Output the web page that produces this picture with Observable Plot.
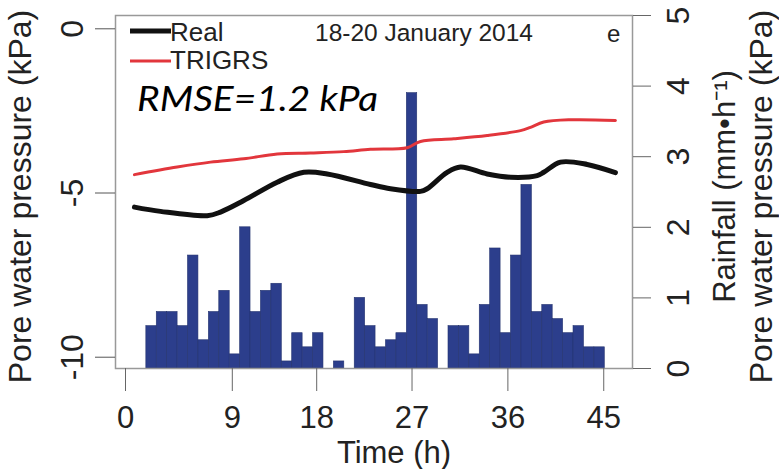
<!DOCTYPE html>
<html>
<head>
<meta charset="utf-8">
<script src="https://cdn.jsdelivr.net/npm/d3@7"></script>
<script src="https://cdn.jsdelivr.net/npm/@observablehq/plot@0.6"></script>
<style>
  html, body { margin: 0; padding: 0; background: #fff; }
  #chart { width: 779px; height: 469px; }
</style>
</head>
<body>
<div id="chart"></div>
<script>
// ---- Data ----
// Hourly rainfall bars (mm/h), consecutive hourly slots starting at slot 2
const rainfall = [0.6, 0.8, 0.8, 0.6, 1.6, 0.4, 0.8, 1.1, 0.2, 2.0,
                  0.8, 1.1, 1.2, 0.1, 0.5, 0.3, 0.5, 0.0, 0.1, 0.0,
                  1.0, 0.6, 0.3, 0.4, 0.5, 3.9, 0.9, 0.7, 0.0, 0.6,
                  0.6, 0.2, 0.9, 1.7, 0.5, 1.6, 2.6, 0.8, 0.9, 0.7,
                  0.5, 0.6, 0.3, 0.3];
const rainStartSlot = 2;

// Measured pore water pressure (kPa)
const realTime     = [0.86, 3.36, 7.84, 9.12, 11.35, 14.56, 17.11, 19.36, 23.51, 25.43, 28.31, 28.95, 30.87, 32.15, 34.71, 36.95, 39.51, 40.14, 41.75, 44.31, 47.02];
const realPressure = [-5.43, -5.56, -5.69, -5.58, -5.23, -4.67, -4.37, -4.42, -4.74, -4.87, -4.95, -4.87, -4.37, -4.21, -4.42, -4.52, -4.47, -4.37, -4.06, -4.13, -4.38];

// TRIGRS simulated pore water pressure (kPa)
const trigrsTime     = [0.86, 4.96, 8.16, 11.35, 14.56, 17.75, 20.95, 23.51, 27.03, 28.31, 31.51, 34.71, 37.91, 38.87, 40.14, 42.71, 47.02];
const trigrsPressure = [-4.44, -4.21, -4.06, -3.96, -3.81, -3.78, -3.74, -3.67, -3.62, -3.43, -3.35, -3.25, -3.10, -3.00, -2.84, -2.77, -2.79];

// Axis ticks
const timeTickPos    = [0, 10.25, 18.35, 27.5, 36.7, 45.9];
const timeTickLabels = ["0", "9", "18", "27", "36", "45"];
const pressureTicks  = [0, -5, -10];
const rainTicks      = [0, 1, 2, 3, 4, 5];

// Pressure axis sits on the rainfall scale: -10 kPa -> 0.16, 0 kPa -> 4.81
const P0 = 4.8116, PK = 0.46516;
const toRain = p => P0 + PK * p;

const bars = rainfall.map((r, i) => ({x1: rainStartSlot + i, x2: rainStartSlot + i + 1, rain: r}));
const real = realTime.map((t, i) => ({t, p: realPressure[i]}));
const trig = trigrsTime.map((t, i) => ({t, p: trigrsPressure[i]}));

const FONT = "'Liberation Sans', Arial, Helvetica, sans-serif";

const plot = Plot.plot({
  width: 779,
  height: 469,
  marginLeft: 115,
  marginRight: 147,
  marginTop: 15,
  marginBottom: 101,
  x: {domain: [-0.96, 48.66]},
  y: {domain: [0, 5]},
  style: {fontFamily: FONT, background: "#fff", color: "#222"},
  marks: [
    Plot.rectY(bars, {x1: "x1", x2: "x2", y: "rain", fill: "#2c3e8c", stroke: "#24336f", strokeWidth: 0.6}),
    Plot.line(trig, {x: "t", y: d => toRain(d.p), stroke: "#e2363c", strokeWidth: 3, curve: "catmull-rom"}),
    Plot.line(real, {x: "t", y: d => toRain(d.p), stroke: "#111", strokeWidth: 5, curve: "catmull-rom"}),
    Plot.frame({stroke: "#999", strokeWidth: 1.5}),
    Plot.axisX({ticks: timeTickPos, tickFormat: d => timeTickLabels[timeTickPos.indexOf(d)],
      tickSize: 23, tickPadding: 14, fontSize: 31, stroke: "#666", fill: "#222", label: null}),
    Plot.axisY({anchor: "left", ticks: pressureTicks.map(toRain),
      tickFormat: d => String(pressureTicks[pressureTicks.map(toRain).indexOf(d)]),
      tickSize: 20, tickPadding: 13, tickRotate: -90, fontSize: 32, stroke: "#555", fill: "#222", label: null}),
    Plot.axisY({anchor: "right", ticks: rainTicks, tickFormat: d => String(d),
      tickSize: 18, tickPadding: 38, tickRotate: -90, fontSize: 32, stroke: "#666", fill: "#222", label: null}),
    Plot.text(["Pore water pressure (kPa)"], {frameAnchor: "left", rotate: -90, dx: -85, dy: 4.5,
      textAnchor: "middle", lineAnchor: "bottom", fontSize: 32, fill: "#222"}),
    Plot.text(["Rainfall (mm•h⁻¹)"], {frameAnchor: "right", rotate: -90, dx: 102, dy: -5.5,
      textAnchor: "middle", lineAnchor: "bottom", fontSize: 31, fill: "#222"}),
    Plot.text(["Pore water pressure (kPa)"], {frameAnchor: "right", rotate: -90, dx: 139, dy: 4.5,
      textAnchor: "middle", lineAnchor: "bottom", fontSize: 32, fill: "#222"}),
    Plot.text(["Time (h)"], {frameAnchor: "bottom", dx: 20, dy: 94.5,
      textAnchor: "middle", lineAnchor: "bottom", fontSize: 31, fill: "#222"})
  ]
});

document.getElementById("chart").appendChild(plot);

// ---- Legend and annotations ----
const svg = d3.select(plot);
const g = svg.append("g").attr("font-family", FONT).attr("fill", "#222").attr("text-anchor", "start");
g.append("line").attr("x1", 130).attr("x2", 171).attr("y1", 31).attr("y2", 31)
  .attr("stroke", "#111").attr("stroke-width", 5);
g.append("text").attr("x", 170).attr("y", 41).attr("font-size", 26).text("Real");
g.append("line").attr("x1", 130).attr("x2", 171).attr("y1", 61).attr("y2", 61)
  .attr("stroke", "#e2363c").attr("stroke-width", 3);
g.append("text").attr("x", 170).attr("y", 69).attr("font-size", 26).text("TRIGRS");
g.append("text").attr("x", 315).attr("y", 41).attr("font-size", 24.5).text("18-20 January 2014");
g.append("text").attr("x", 607).attr("y", 42).attr("font-size", 24).text("e");
g.append("text").attr("x", 137).attr("y", 111).attr("font-size", 34)
  .attr("font-family", "Lato, 'Open Sans', sans-serif").attr("font-style", "italic")
  .attr("fill", "#000").attr("textLength", 241).attr("lengthAdjust", "spacingAndGlyphs")
  .text("RMSE=1.2 kPa");
</script>
</body>
</html>
